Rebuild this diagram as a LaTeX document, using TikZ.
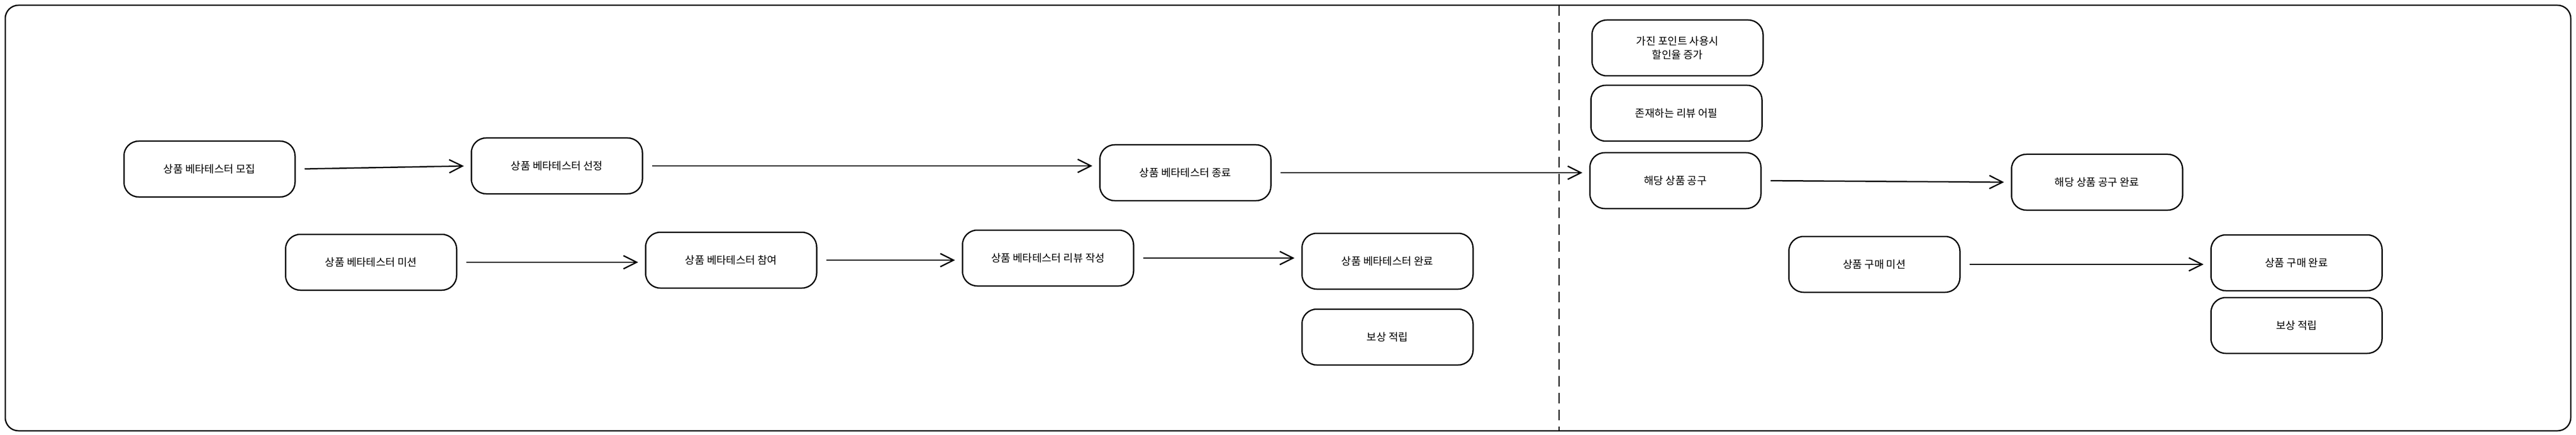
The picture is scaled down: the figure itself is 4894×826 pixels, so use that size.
\documentclass[tikz,border=0pt]{standalone}
\usepackage{fontspec}
\setmainfont{Noto Sans CJK KR}
\usetikzlibrary{arrows.meta}
\begin{document}
\begin{tikzpicture}[x=1pt,y=-1pt,
 box/.style={draw,line width=2.5pt,rounded corners=28pt,minimum width=325pt,minimum height=106pt,align=center,font=\fontsize{20pt}{26pt}\selectfont,inner sep=0},
 arr/.style={line width=2.5pt,-{Straight Barb[length=25pt,width=25pt,line width=2.5pt]},shorten <=17pt,shorten >=13pt}]
\useasboundingbox (0,0) rectangle (4894,826);
\draw[line width=2.5pt,rounded corners=25pt] (10,10) rectangle (4884,818);
\draw[line width=2.5pt,dash pattern=on 20pt off 12pt] (2962,10) -- (2962,818);
\node[box] (a) at (398,321) {상품 베타테스터 모집};
\node[box] (b) at (1058,315) {상품 베타테스터 선정};
\node[box] (c) at (2252,328) {상품 베타테스터 종료};
\node[box] (d) at (705,498) {상품 베타테스터 미션};
\node[box] (e) at (1389,494) {상품 베타테스터 참여};
\node[box] (f) at (1991,490) {상품 베타테스터 리뷰 작성};
\node[box] (g) at (2636,496) {상품 베타테스터 완료};
\node[box] (h) at (2636,640) {보상 적립};
\node[box] (i) at (3187,91) {가진 포인트 사용시\\할인율 증가};
\node[box] (j) at (3185,215) {존재하는 리뷰 어필};
\node[box] (k) at (3183,343) {해당 상품 공구};
\node[box] (l) at (3984,346) {해당 상품 공구 완료};
\node[box] (m) at (3561,502) {상품 구매 미션};
\node[box] (n) at (4363,499) {상품 구매 완료};
\node[box] (o) at (4363,618) {보상 적립};
\draw[arr] (a.east) -- (b.west);
\draw[arr] (b.east) -- (b.east -| c.west);
\draw[arr] (c.east) -- (c.east -| k.west);
\draw[arr] (d.east) -- (d.east -| e.west);
\draw[arr] (e.east) -- (e.east -| f.west);
\draw[arr] (f.east) -- (f.east -| g.west);
\draw[arr] (k.east) -- (l.west);
\draw[arr] (m.east) -- (m.east -| n.west);
\end{tikzpicture}
\end{document}
